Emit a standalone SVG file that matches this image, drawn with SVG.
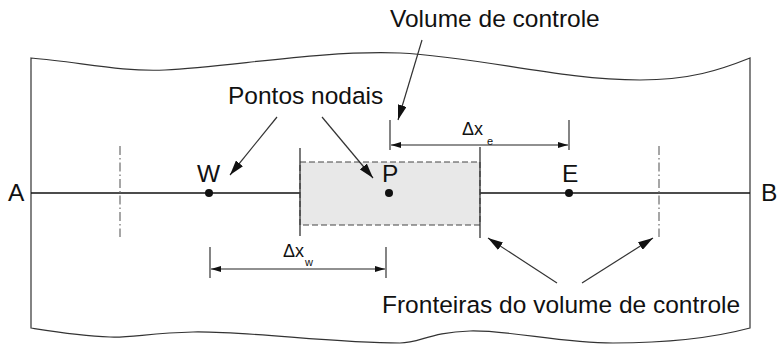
<svg xmlns="http://www.w3.org/2000/svg" width="777" height="344" viewBox="0 0 777 344">
<style>
text{font-family:"Liberation Sans",Arial,sans-serif;fill:#111}
.lbl{font-size:24.5px}
.dim{font-size:18px}
.sub{font-size:11px}
.outline{fill:none;stroke:#333;stroke-width:1.2}
.axis{stroke:#111;stroke-width:1.3}
.dashdot{stroke:#777;stroke-width:1.3;stroke-dasharray:9,3,1.5,3}
.solid{stroke:#333;stroke-width:1.3}
.lead{stroke:#333;stroke-width:1.2;fill:none;marker-end:url(#ah)}
.dimline{stroke:#222;stroke-width:1.2;marker-start:url(#dh);marker-end:url(#dh)}
.tick{stroke:#333;stroke-width:1.2}
.node{fill:#111}
</style>
<defs>
<marker id="ah" viewBox="0 0 15 9" refX="15" refY="4.5" markerWidth="15" markerHeight="9" markerUnits="userSpaceOnUse" orient="auto"><path d="M0,0 L15,4.5 L0,9 z" fill="#111"/></marker>
<marker id="dh" viewBox="0 0 10 6" refX="10" refY="3" markerWidth="10" markerHeight="6" markerUnits="userSpaceOnUse" orient="auto-start-reverse"><path d="M0,0 L10,3 L0,6 z" fill="#111"/></marker>
</defs>
<rect width="777" height="344" fill="#fff"/>
<g id="domain">
<path class="outline" d="M31,58 C80,62 120,72 165,70 C230,67 320,50 400,53 C480,57 560,80 640,80 C690,80 720,70 750,58 L750,328 C720,336 680,343 613,343 C560,343 510,330 470,331 C430,332 420,343 400,343 C330,343 250,331 193,332 C150,333 130,338 110,337 C80,336 50,331 31,328 Z"/>
<line class="axis" x1="31" y1="193" x2="750" y2="193"/>
</g>
<g id="cv">
<rect x="300" y="162" width="180" height="63" fill="#e8e8e8" stroke="#444" stroke-width="1.1" stroke-dasharray="6,3"/>
<line class="solid" x1="300" y1="148" x2="300" y2="236"/>
<line class="solid" x1="480" y1="147" x2="480" y2="238"/>
</g>
<g id="face-w"><line class="dashdot" x1="120" y1="146" x2="120" y2="237"/></g>
<g id="face-e"><line class="dashdot" x1="659" y1="146" x2="659" y2="237"/></g>
<g id="node-A"><text class="lbl" x="8" y="201">A</text></g>
<g id="node-B"><text class="lbl" x="761" y="201">B</text></g>
<g id="node-W"><circle class="node" cx="209" cy="193" r="4"/><text class="lbl" x="197" y="182">W</text></g>
<g id="node-P"><circle class="node" cx="389" cy="193" r="4"/><text class="lbl" x="382" y="182">P</text></g>
<g id="node-E"><circle class="node" cx="569" cy="193" r="4"/><text class="lbl" x="562" y="182">E</text></g>
<g id="dim-e">
<line class="tick" x1="390" y1="120" x2="390" y2="150"/>
<line class="tick" x1="569" y1="120" x2="569" y2="150"/>
<text class="dim" x="462" y="135">Δx</text><text class="sub" x="487" y="145">e</text>
</g>
<g id="dim-w">
<line class="tick" x1="210" y1="247" x2="210" y2="278"/>
<line class="tick" x1="386" y1="247" x2="386" y2="278"/>
<text class="dim" x="283" y="257">Δx</text><text class="sub" x="305" y="266">w</text>
</g>
<g id="label-vc"><text class="lbl" x="390" y="27">Volume de controle</text></g>
<g id="label-pn"><text class="lbl" x="228" y="104">Pontos nodais</text></g>
<g id="label-fr"><text class="lbl" x="382" y="313">Fronteiras do volume de controle</text></g>
<g id="connectors">
<line class="dimline" x1="391" y1="145" x2="568" y2="145"/>
<line class="dimline" x1="211" y1="269" x2="385" y2="269"/>
<line class="lead" x1="277" y1="117" x2="230" y2="175"/>
<line class="lead" x1="322" y1="117" x2="373" y2="178"/>
<line class="lead" x1="422" y1="40" x2="398" y2="120"/>
<line class="lead" x1="557" y1="283" x2="488" y2="238"/>
<line class="lead" x1="582" y1="283" x2="653" y2="238"/>
</g>
</svg>
